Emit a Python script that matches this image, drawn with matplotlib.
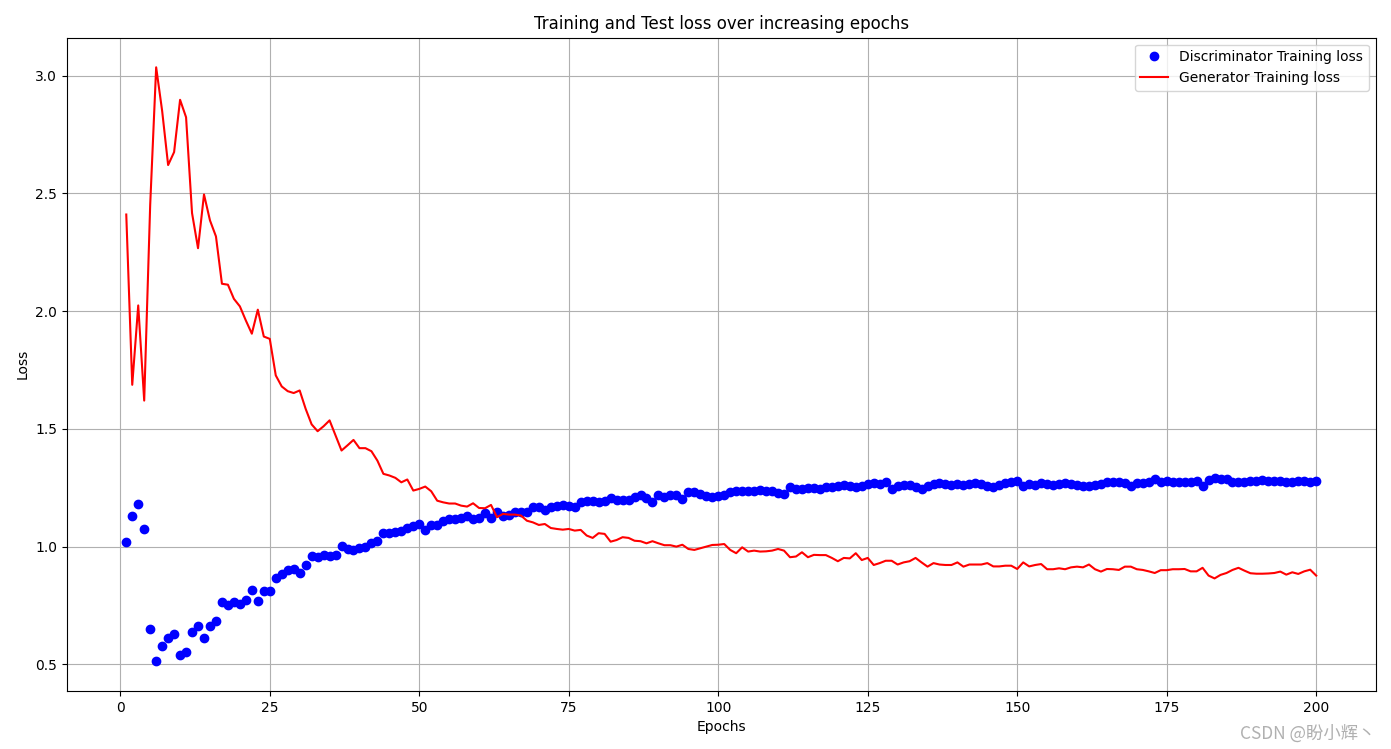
import matplotlib
matplotlib.use("Agg")
import matplotlib.pyplot as plt
import numpy as np

# losses, one value per epoch (1..200)
epochs = np.arange(1, 201)

disc_loss = [
    1.02, 1.13, 1.18, 1.075, 0.652, 0.513, 0.58, 0.614, 0.627, 0.541,
    0.551, 0.637, 0.665, 0.614, 0.663, 0.683, 0.763, 0.754, 0.763, 0.758,
    0.775, 0.817, 0.77, 0.81, 0.813, 0.868, 0.882, 0.899, 0.906, 0.889,
    0.923, 0.96, 0.956, 0.965, 0.96, 0.966, 1.003,
    0.99, 0.987, 0.994, 1.0, 1.014, 1.025, 1.057, 1.057, 1.061, 1.068,
    1.079, 1.089, 1.096, 1.071, 1.093, 1.093, 1.11, 1.118, 1.118, 1.122,
    1.129, 1.118, 1.122, 1.142, 1.122, 1.146, 1.129, 1.135, 1.146, 1.146,
    1.146, 1.167, 1.167, 1.156, 1.17, 1.174, 1.178, 1.174, 1.167, 1.188,
    1.195, 1.195, 1.188, 1.195, 1.207, 1.2, 1.2, 1.198,
    1.212, 1.221, 1.207, 1.188, 1.221, 1.212, 1.221, 1.221, 1.203, 1.231,
    1.231, 1.224, 1.217, 1.21, 1.217, 1.221, 1.231, 1.238, 1.238, 1.238,
    1.238, 1.242, 1.238, 1.235, 1.227, 1.224, 1.252, 1.245, 1.245, 1.248,
    1.248, 1.245, 1.252, 1.255, 1.259, 1.262, 1.256, 1.255, 1.259, 1.266,
    1.269, 1.266, 1.273, 1.245, 1.259, 1.263, 1.263, 1.252, 1.245, 1.256,
    1.266, 1.269, 1.266, 1.263, 1.266,
    1.263, 1.266, 1.269, 1.266, 1.259, 1.255, 1.263, 1.269, 1.273, 1.278,
    1.259, 1.266, 1.263, 1.269, 1.266, 1.263, 1.266, 1.269, 1.266, 1.262,
    1.259, 1.259, 1.263, 1.266, 1.273, 1.276, 1.273, 1.272, 1.257, 1.269,
    1.271, 1.273, 1.287, 1.273, 1.278, 1.273, 1.276, 1.273, 1.273, 1.278,
    1.259, 1.283, 1.292, 1.287, 1.287, 1.273, 1.273, 1.273, 1.278, 1.28,
    1.283, 1.28, 1.278, 1.278, 1.276, 1.273, 1.278, 1.278, 1.273, 1.28,
]

gen_loss = [
    2.41, 1.687, 2.024, 1.62, 2.45, 3.035, 2.85, 2.62, 2.675, 2.897,
    2.823, 2.416, 2.267, 2.495, 2.385, 2.317, 2.116, 2.112, 2.052, 2.02,
    1.96, 1.904, 2.006, 1.892, 1.882, 1.727, 1.68, 1.66, 1.652, 1.663,
    1.585, 1.519, 1.49, 1.511, 1.536, 1.472, 1.408,
    1.43, 1.453, 1.418, 1.418, 1.405, 1.365, 1.309, 1.302, 1.292, 1.273,
    1.285, 1.238, 1.245, 1.255, 1.235, 1.195, 1.188, 1.183, 1.183, 1.174,
    1.17, 1.184, 1.164, 1.163, 1.177, 1.125, 1.139, 1.136, 1.136, 1.132,
    1.11, 1.103, 1.092, 1.096, 1.079, 1.075, 1.072, 1.075, 1.068, 1.071,
    1.047, 1.037, 1.057, 1.054, 1.021, 1.028, 1.04, 1.037,
    1.025, 1.023, 1.014, 1.023, 1.014, 1.006, 1.006, 1.0, 1.008, 0.99,
    0.986, 0.993, 1.0, 1.007, 1.008, 1.011, 0.986, 0.972, 0.997, 0.979,
    0.983, 0.979, 0.98, 0.983, 0.99, 0.983, 0.955, 0.958, 0.976, 0.955,
    0.965, 0.964, 0.964, 0.952, 0.938, 0.952, 0.95, 0.972, 0.943, 0.952,
    0.922, 0.93, 0.94, 0.94, 0.924, 0.933, 0.938, 0.952, 0.933, 0.915,
    0.93, 0.924, 0.922, 0.922, 0.933,
    0.915, 0.924, 0.924, 0.924, 0.93, 0.916, 0.916, 0.919, 0.919, 0.905,
    0.933, 0.916, 0.922, 0.926, 0.904, 0.904, 0.908, 0.904, 0.912, 0.915,
    0.912, 0.924, 0.904, 0.894, 0.905, 0.904, 0.901, 0.915, 0.915, 0.904,
    0.901, 0.895, 0.888, 0.9, 0.9, 0.904, 0.904, 0.905, 0.895, 0.895,
    0.91, 0.877, 0.865, 0.88, 0.888, 0.901, 0.91, 0.898, 0.887, 0.885,
    0.885, 0.886, 0.888, 0.894, 0.881, 0.891, 0.884, 0.895, 0.902, 0.877,
]

fig = plt.figure(figsize=(13.91, 7.49), dpi=100)
ax = fig.add_axes([0.048, 0.0774, 0.941, 0.8724])

ax.plot(epochs, disc_loss, 'bo', label='Discriminator Training loss')
ax.plot(epochs, gen_loss, 'r', label='Generator Training loss')
ax.set_title('Training and Test loss over increasing epochs')
ax.set_xlabel('Epochs')
ax.set_ylabel('Loss')
ax.legend()
ax.grid()

# CSDN watermark in the corner
fig.text(0.989, 0.008, 'CSDN @盼小辉丶', ha='right', va='bottom',
         fontsize=12.5, color='#a8a8a8', alpha=0.9,
         family=['Noto Sans CJK SC', 'DejaVu Sans'])

plt.savefig('out.png', dpi=100)
